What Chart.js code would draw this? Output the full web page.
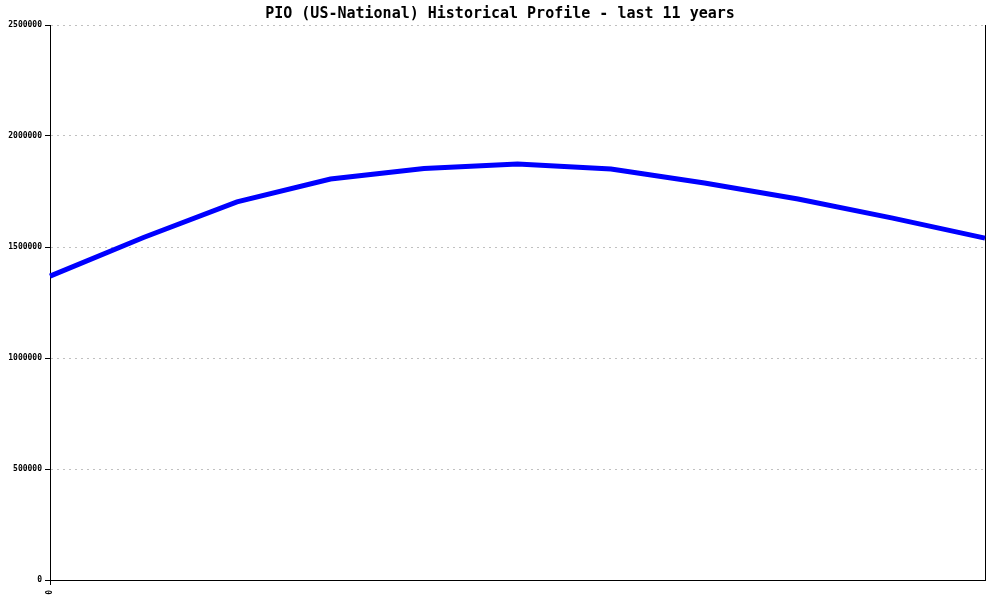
<!doctype html>
<html lang="en">
<head>
  <meta charset="utf-8">
  <title>PIO (US-National) Historical Profile</title>
  <script src="https://cdn.jsdelivr.net/npm/chart.js@4"></script>
  <style>
    html, body { margin: 0; padding: 0; background: #fff; }
    #wrap { width: 1000px; height: 600px; }
  </style>
</head>
<body>
<div id="wrap"><canvas id="chart1"></canvas></div>
<script>
  const titleText = 'PIO (US-National) Historical Profile - last 11 years'
  const years = ['0', '', '', '', '', '', '', '', '', '', '']
  const population = [1369000, 1543000, 1703000, 1806000, 1854000, 1874000, 1851000, 1788000, 1716000, 1631000, 1540000]
  const yTicks = [0, 500000, 1000000, 1500000, 2000000, 2500000]

  const mono = 'DejaVu Sans Mono, monospace'

  new Chart(document.getElementById('chart1'), {
    type: 'line',
    data: {
      labels: years,
      datasets: [
        {
          data: population,
          borderColor: '#0000ff',
          borderWidth: 5,
          pointRadius: 0,
          tension: 0,
          fill: false,
          yAxisID: 'y',
        }
      ]
    },
    options: {
      responsive: true,
      maintainAspectRatio: false,
      animation: false,
      layout: { padding: 0 },
      scales: {
        x: {
          ticks: {
            color: '#000',
            font: { family: mono, size: 8, weight: 'bold' },
            maxRotation: 90,
            minRotation: 90,
            autoSkip: false,
            padding: 5,
          },
          grid: {
            drawOnChartArea: false,
            tickLength: 5,
            tickColor: ctx => ctx.index === 0 ? '#000' : 'rgba(0,0,0,0)',
          },
          border: { color: '#000', width: 1 },
          afterFit(scale) { scale.height = 20 },
        },
        y: {
          min: 0,
          max: 2500000,
          afterBuildTicks(scale) { scale.ticks = yTicks.map(v => ({ value: v })) },
          ticks: {
            color: '#000',
            font: { family: mono, size: 8, weight: 'bold' },
            padding: 3,
            callback: v => String(v),
          },
          grid: {
            color: '#c0c0c0',
            tickColor: '#000',
            tickBorderDash: [],
            tickLength: 5,
          },
          border: { color: '#000', width: 1, dash: [2, 4] },
          afterFit(scale) { scale.width = 50 },
        },
        y2: {
          position: 'right',
          min: 0,
          max: 2500000,
          ticks: { display: false },
          grid: { display: false },
          border: { color: '#000', width: 1 },
          afterFit(scale) { scale.width = 15 },
        }
      },
      plugins: {
        legend: { display: false },
        tooltip: { enabled: false },
        title: {
          display: true,
          text: titleText,
          color: '#000',
          font: { family: mono, size: 15, weight: 'bold', lineHeight: 1.2 },
          padding: { top: 5, bottom: 2 },
        }
      }
    }
  });
</script>
</body>
</html>
